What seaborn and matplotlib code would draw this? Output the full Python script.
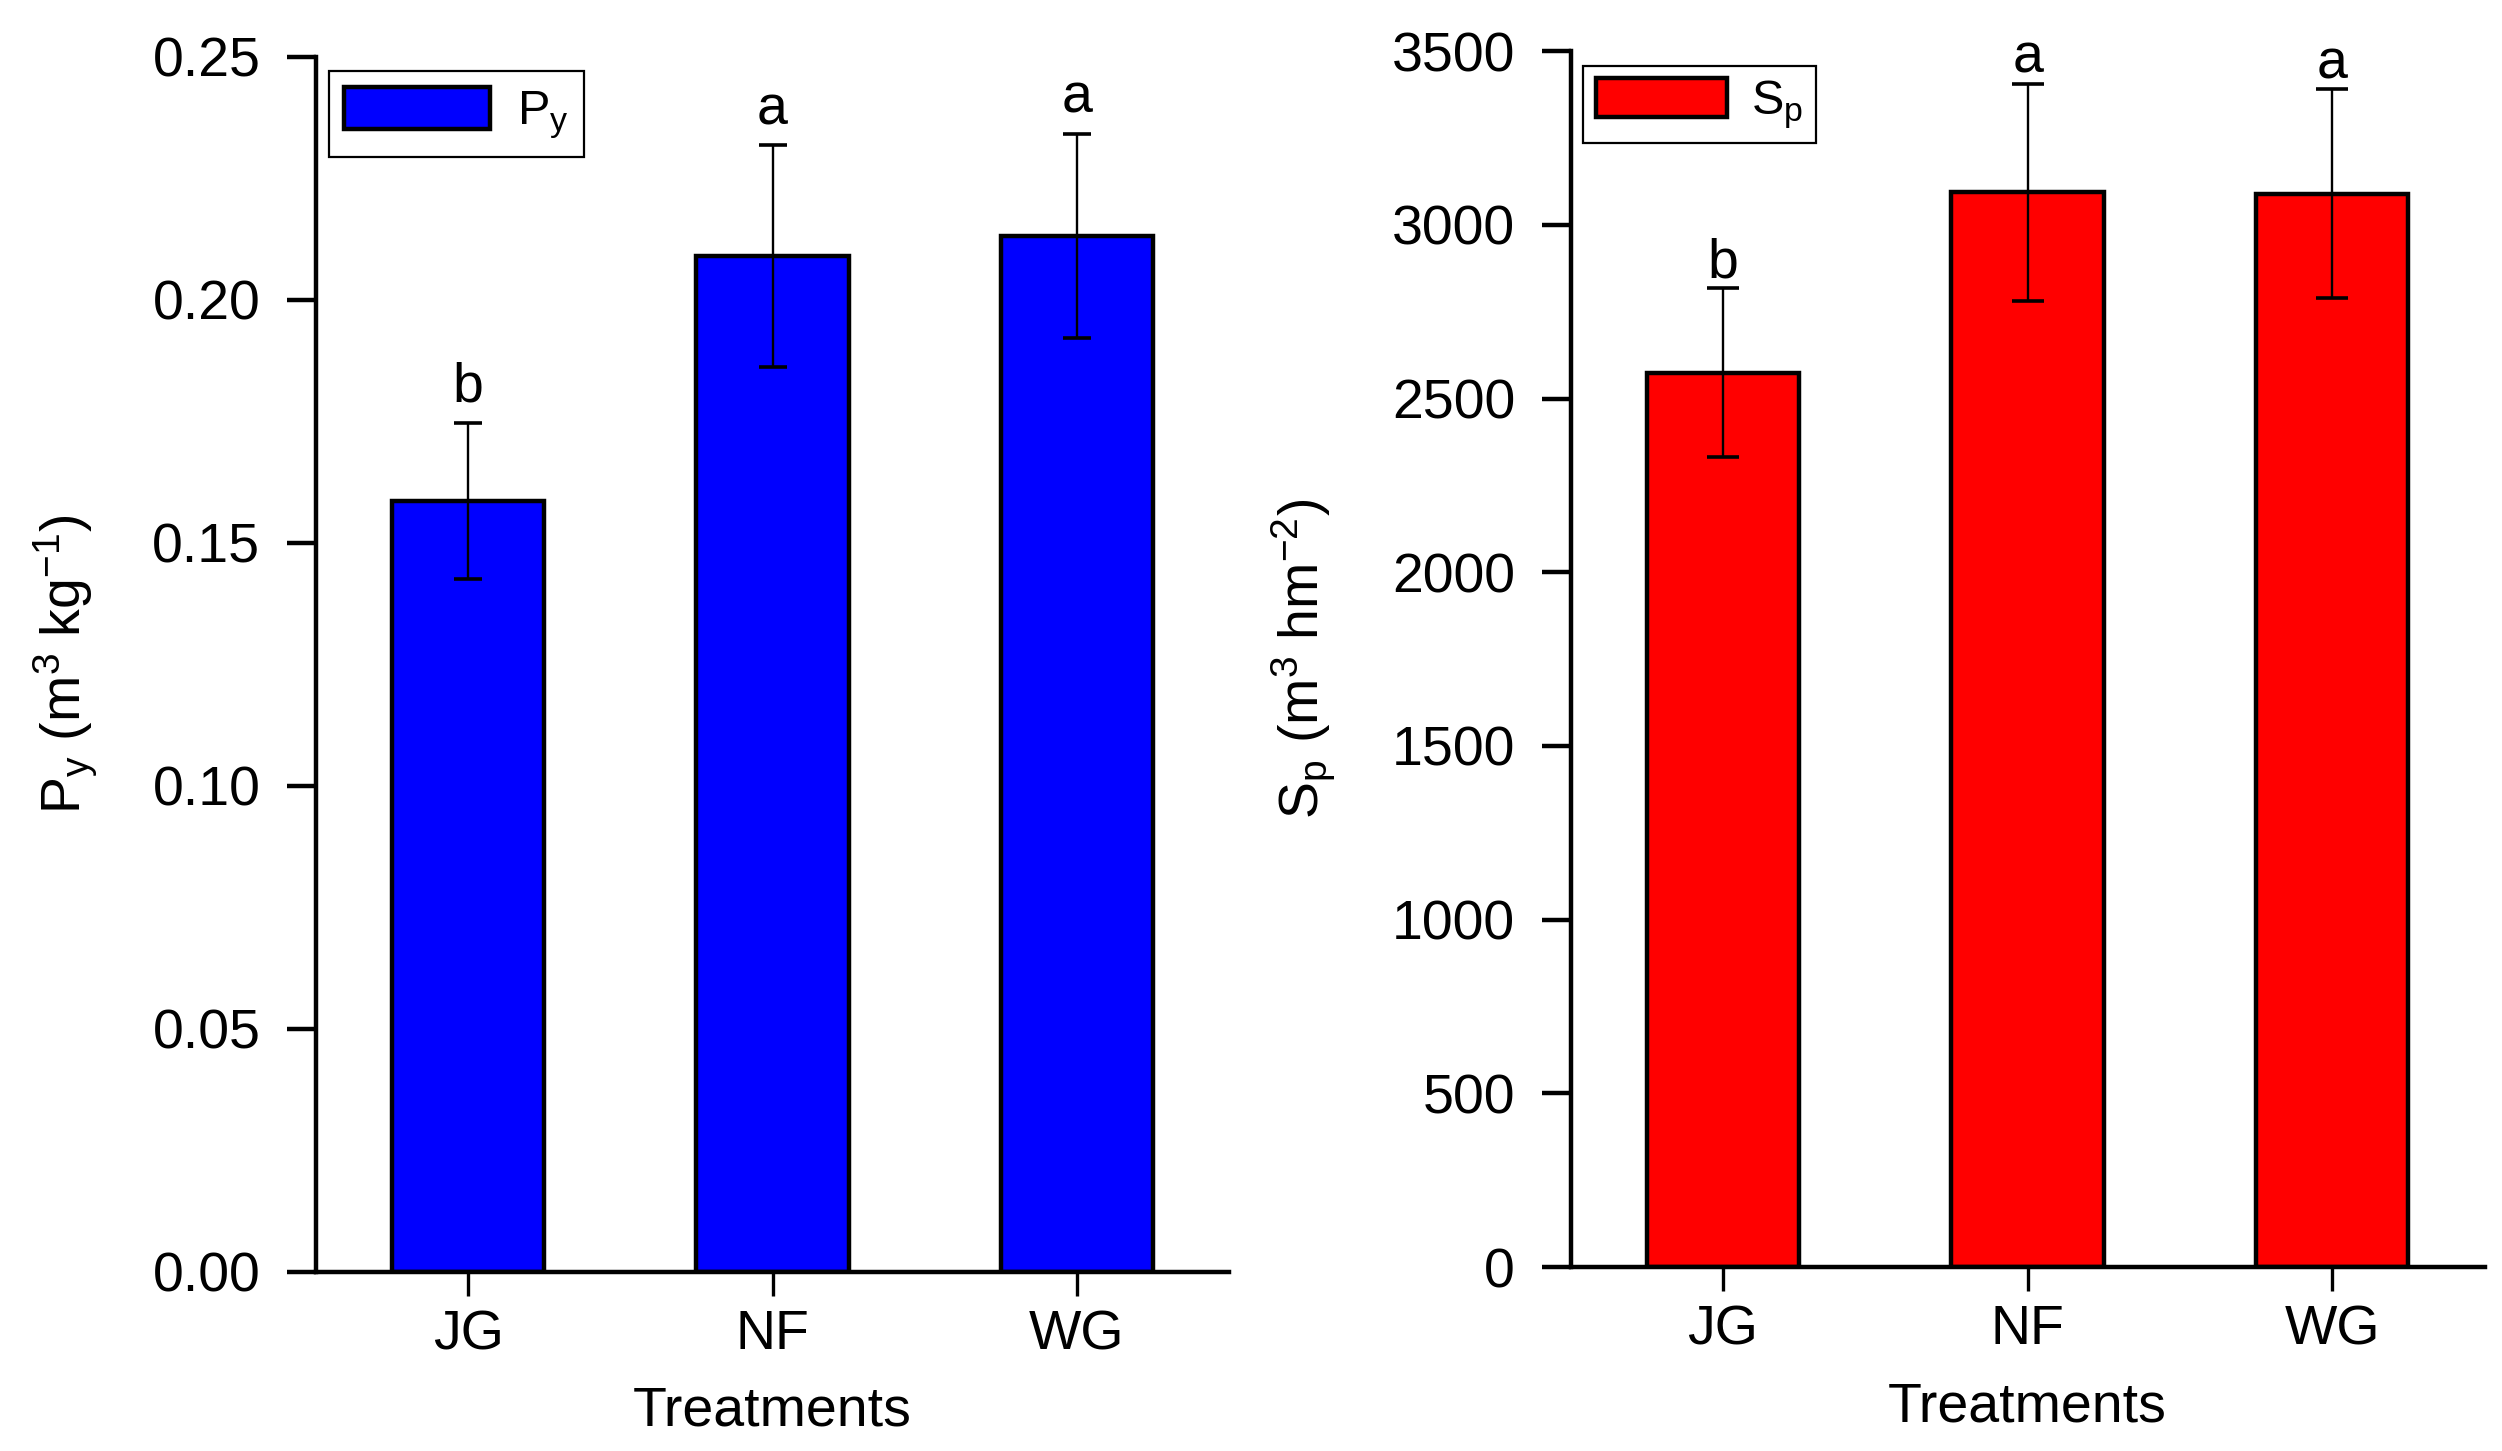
import numpy as np
import pandas as pd
import seaborn as sns
import matplotlib
matplotlib.use('Agg')
import matplotlib.pyplot as plt

sns.set_style('ticks', {'text.color': 'black', 'axes.labelcolor': 'black',
                        'xtick.color': 'black', 'ytick.color': 'black',
                        'axes.edgecolor': 'black'})
plt.rcParams['font.family'] = ['Liberation Sans', 'DejaVu Sans']
plt.rcParams['mathtext.fontset'] = 'custom'
plt.rcParams['mathtext.rm'] = 'Liberation Sans'
plt.rcParams['mathtext.it'] = 'Liberation Sans:italic'

# data
treatments = ['JG', 'NF', 'WG']
py_mean = [0.1586, 0.2090, 0.2132]
py_err = [0.0161, 0.0228, 0.0210]
sp_mean = [2575, 3094, 3090]
sp_err = [242, 312, 300]
py_letters = ['b', 'a', 'a']
sp_letters = ['b', 'a', 'a']

df_py = pd.DataFrame({'treat': treatments, 'val': py_mean, 'err': py_err})
df_sp = pd.DataFrame({'treat': treatments, 'val': sp_mean, 'err': sp_err})

W, H = 2502, 1451
fig = plt.figure(figsize=(W / 100, H / 100), dpi=100)
ax1 = fig.add_axes([316 / W, 1 - 1271.5 / H, 913 / W, (1271.5 - 56.8) / H])
ax2 = fig.add_axes([1570.6 / W, 1 - 1267 / H, 914 / W, (1267 - 51.2) / H])


def panel(ax, df, color, letters, ylim, step, fmt, ylabel, leg_label,
          label_x, capsize, txt_off, hlen, hhei, bpad, tpad):
    sns.barplot(data=df, x='treat', y='val', color=color, saturation=1,
                width=0.5, edgecolor='black', linewidth=3.2, errorbar=None, ax=ax)
    xs = [p.get_x() + p.get_width() / 2 for p in ax.patches]
    ax.errorbar(xs, df['val'], yerr=df['err'], fmt='none', ecolor='black',
                elinewidth=1.7, capsize=capsize, capthick=2.6, zorder=5)
    for x, v, e, t in zip(xs, df['val'], df['err'], letters):
        ax.annotate(t, (x, v + e), xytext=(0, txt_off), textcoords='offset points',
                    ha='center', va='baseline', fontsize=40, color='black')

    ax.set_xlim(-0.5, 2.5)
    ax.set_ylim(*ylim)
    ax.set_yticks(np.arange(ylim[0], ylim[1] + step / 2, step))
    ax.yaxis.set_major_formatter(matplotlib.ticker.FormatStrFormatter(fmt))
    sns.despine(ax=ax)
    for s in ['left', 'bottom']:
        ax.spines[s].set_linewidth(3.2)
    ax.tick_params(axis='y', length=21, width=3.2, pad=19, labelsize=40)
    ax.tick_params(axis='x', length=17, width=2.4, pad=10, labelsize=40)

    ax.set_xlabel('Treatments', fontsize=40, labelpad=18)
    ax.set_ylabel(ylabel, fontsize=40)
    ax.yaxis.set_label_coords(label_x, 0.5)

    leg = ax.legend([ax.patches[0]], [leg_label], loc='upper left',
                    bbox_to_anchor=(0.014, 0.988), borderaxespad=0,
                    fontsize=35, fancybox=False, framealpha=1,
                    edgecolor='black', handlelength=hlen, handleheight=hhei,
                    handletextpad=tpad, borderpad=bpad)
    leg.get_frame().set_linewidth(1.6)


panel(ax1, df_py, '#0000ff', py_letters, (0, 0.25), 0.05, '%.2f',
      r'P$_\mathregular{y}$ (m$^\mathregular{3}$ kg$^\mathregular{-1}$)',
      r'P$_\mathregular{y}$', -0.2377, 10, 15, 3.0, 0.95, 0.32, 0.55)
panel(ax2, df_sp, '#ff0000', sp_letters, (0, 3500), 500, '%d',
      r'S$_\mathregular{p}$ (m$^\mathregular{3}$ hm$^\mathregular{-2}$)',
      r'S$_\mathregular{p}$', -0.256, 11.5, 8, 2.7, 0.85, 0.25, 0.5)

fig.savefig('out.png', dpi=100)
